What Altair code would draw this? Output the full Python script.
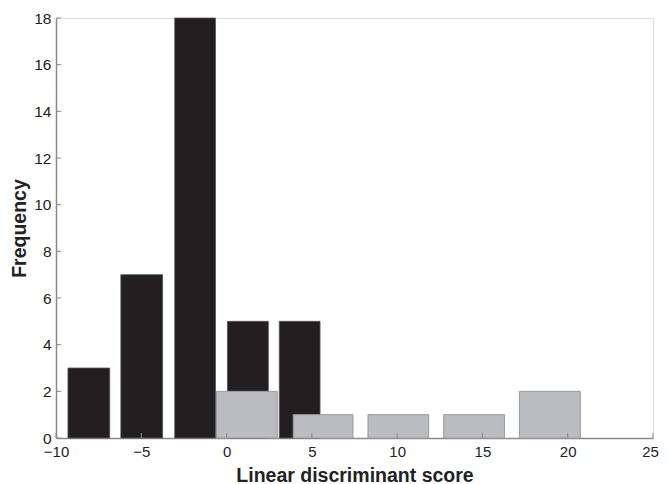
import altair as alt
import pandas as pd

# Black histogram (group 1)
black_left = [-9.30, -6.20, -3.04, 0.05, 3.09]
black_right = [-6.85, -3.75, -0.65, 2.45, 5.48]
black_count = [3, 7, 18, 5, 5]

# Grey histogram (group 2)
grey_left = [-0.59, 3.91, 8.29, 12.73, 17.17]
grey_right = [2.97, 7.41, 11.85, 16.29, 20.74]
grey_count = [2, 1, 1, 1, 2]

x_ticks = [-10, -5, 0, 5, 10, 15, 20, 25]
y_ticks = [0, 2, 4, 6, 8, 10, 12, 14, 16, 18]

black = pd.DataFrame({"l": black_left, "r": black_right, "n": black_count})
grey = pd.DataFrame({"l": grey_left, "r": grey_right, "n": grey_count})
xt = pd.DataFrame({"v": x_ticks})
yt = pd.DataFrame({"v": y_ticks})

FONT = "Liberation Sans"
xscale = alt.Scale(domain=[-10, 25], nice=False, zero=False)
yscale = alt.Scale(domain=[0, 18], nice=False)

xaxis = alt.Axis(values=x_ticks, title="Linear discriminant score", tickSize=0,
                 labelExpr="replace(datum.label, '-', '\u2212')",
                 labelFlush=False, labelOverlap=False,
                 labelOffset={"condition": {"test": "datum.value == 25", "value": -3}, "value": 0},
                 labelFont=FONT, labelFontSize=15, labelColor="#222", labelPadding=6,
                 titleFont=FONT, titleFontSize=19.5, titleFontWeight="bold", titleColor="#222",
                 titlePadding=7, domainColor="#8a8a8a", domainWidth=1.5, grid=False)
yaxis = alt.Axis(values=y_ticks, title="Frequency", tickSize=0,
                 labelFlush=False, labelOverlap=False,
                 labelFont=FONT, labelFontSize=15.5, labelColor="#222", labelPadding=5,
                 titleFont=FONT, titleFontSize=19.5, titleFontWeight="bold", titleColor="#222",
                 titlePadding=4, domainColor="#8a8a8a", domainWidth=1.5, grid=False)

b = alt.Chart(black).mark_bar(color="#231f20", stroke="#555", strokeWidth=0.8).encode(
    x=alt.X("l:Q", scale=xscale, axis=xaxis),
    x2="r:Q",
    y=alt.Y("n:Q", scale=yscale, axis=yaxis),
    y2=alt.datum(0),
)
g = alt.Chart(grey).mark_bar(color="#bbbcbf", stroke="#9a9a9c", strokeWidth=1).encode(
    x=alt.X("l:Q", scale=xscale),
    x2="r:Q",
    y=alt.Y("n:Q", scale=yscale),
    y2=alt.datum(0),
)
yticks = alt.Chart(yt).mark_rule(color="#8a8a8a", strokeWidth=1).encode(
    y=alt.Y("v:Q", scale=yscale), x=alt.value(0), x2=alt.value(5)
)
xticks = alt.Chart(xt).mark_rule(color="#8a8a8a", strokeWidth=1).encode(
    x=alt.X("v:Q", scale=xscale), y=alt.value(420), y2=alt.value(415)
)

chart = alt.layer(b, g, yticks, xticks).properties(
    width=597, height=420,
    padding={"left": 48, "top": 10, "right": 8, "bottom": 46},
    autosize=alt.AutoSizeParams(type="none"),
).configure_view(stroke=None).configure(background="white")

chart.save("out.html", embed_options={"renderer": "svg", "actions": False})
